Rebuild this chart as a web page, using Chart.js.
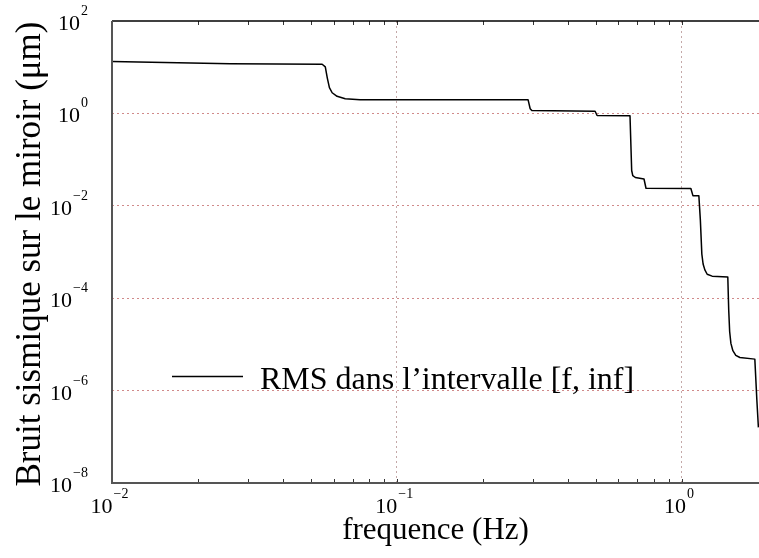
<!DOCTYPE html>
<html>
<head>
<meta charset="utf-8">
<script src="https://cdn.jsdelivr.net/npm/chart.js@4"></script>
<style>
    html, body { margin: 0; padding: 0; background: #fff; }
    #wrap { width: 759px; height: 558px; }
</style>
</head>
<body>
<div id="wrap"><canvas id="ChartBruit" width="759" height="558"></canvas></div>
<script>
// Data
const freq = [
    0.01, 0.026, 0.0547, 0.0561, 0.057, 0.058, 0.0593, 0.0617, 0.0659, 0.0743,
    0.289, 0.294, 0.298, 0.497, 0.505, 0.659, 0.668, 0.674, 0.688, 0.738,
    0.75, 1.078, 1.096, 1.15, 1.164, 1.178, 1.19, 1.207, 1.23, 1.28,
    1.453, 1.464, 1.475, 1.49, 1.514, 1.55, 1.602, 1.808, 1.838, 1.861
];
const rms = [
    13.3, 11.9, 11.6, 10.2, 5.9, 3.6, 2.8, 2.34, 2.07, 1.97,
    1.98, 1.26, 1.15, 1.11, 0.90, 0.887, 0.058, 0.045, 0.041, 0.038,
    0.024, 0.0236, 0.0166, 0.0164, 0.0049, 9e-4, 5.5e-4, 4.1e-4, 3.3e-4, 3.0e-4,
    2.87e-4, 5.5e-5, 1.9e-5, 1.05e-5, 7.3e-6, 5.8e-6, 5.2e-6, 4.8e-6, 6.2e-7, 1.6e-7
];
const seriesLabel = 'RMS dans l\u2019intervalle [f, inf]';
const xTickExps = [-2, -1, 0];
const yTickExps = [2, 0, -2, -4, -6, -8];
const xGridValues = [0.1, 1];
const yGridValues = [1, 1e-2, 1e-4, 1e-6];
const xTitle = 'frequence (Hz)';
const yTitle = 'Bruit sismique sur le miroir (\u03bcm)';

const SERIF = '"Liberation Serif", "Times New Roman", serif';

// "10" with a raised exponent
const drawPower = (ctx, exp, x, y, align) => {
    const base = '10';
    const sup = exp < 0 ? '\u2212' + Math.abs(exp) : String(exp);
    ctx.font = '22px ' + SERIF;
    const wb = ctx.measureText(base).width;
    ctx.font = '14px ' + SERIF;
    const ws = ctx.measureText(sup).width;
    let left = x;
    if (align === 'center') left = x - (wb + ws) / 2;
    if (align === 'right') left = x - (wb + ws);
    ctx.textAlign = 'left';
    ctx.textBaseline = 'alphabetic';
    ctx.font = '22px ' + SERIF;
    ctx.fillText(base, left, y);
    ctx.font = '14px ' + SERIF;
    ctx.fillText(sup, left + wb + 1, y - 15);
};

const decorations = {
    id: 'decorations',
    afterDraw(chart) {
        const ctx = chart.ctx;
        const area = chart.chartArea;
        const xs = chart.scales.x;
        const ys = chart.scales.y;

        ctx.save();
        ctx.fillStyle = '#000';

        // minor ticks, pointing inward on top and bottom
        ctx.strokeStyle = '#333';
        ctx.lineWidth = 1;
        ctx.beginPath();
        for (let e = -2; e <= 0; e++) {
            for (let m = 1; m <= 9; m++) {
                const v = m * Math.pow(10, e);
                if (v > xs.max) continue;
                const px = Math.round(xs.getPixelForValue(v)) + 0.5;
                ctx.moveTo(px, area.top);
                ctx.lineTo(px, area.top + 4);
                ctx.moveTo(px, area.bottom);
                ctx.lineTo(px, area.bottom - 4);
            }
        }
        ctx.stroke();

        // axis lines
        ctx.strokeStyle = '#000';
        ctx.lineWidth = 1.5;
        ctx.beginPath();
        ctx.moveTo(area.left, area.top);
        ctx.lineTo(area.right, area.top);
        ctx.stroke();
        ctx.strokeStyle = '#555';
        ctx.lineWidth = 2;
        ctx.beginPath();
        ctx.moveTo(area.left, area.top);
        ctx.lineTo(area.left, area.bottom);
        ctx.lineTo(area.right, area.bottom);
        ctx.stroke();

        // tick labels
        ctx.fillStyle = '#000';
        xTickExps.forEach((e) => {
            const px = xs.getPixelForValue(Math.pow(10, e));
            drawPower(ctx, e, px - 3, area.bottom + 30, 'center');
        });
        yTickExps.forEach((e) => {
            const py = ys.getPixelForValue(Math.pow(10, e));
            drawPower(ctx, e, 87, py + 9, 'right');
        });

        // axis titles
        ctx.font = '31px ' + SERIF;
        ctx.textAlign = 'center';
        ctx.textBaseline = 'alphabetic';
        ctx.fillText(xTitle, (area.left + area.right) / 2, 539);

        ctx.save();
        ctx.translate(40, 254);
        ctx.rotate(-Math.PI / 2);
        ctx.font = '35px ' + SERIF;
        ctx.fillText(yTitle, 0, 0);
        ctx.restore();

        // legend inside the plot
        const ds = chart.data.datasets[0];
        ctx.strokeStyle = ds.borderColor;
        ctx.lineWidth = 1.5;
        ctx.beginPath();
        ctx.moveTo(172, 376.5);
        ctx.lineTo(243, 376.5);
        ctx.stroke();
        ctx.font = '32px ' + SERIF;
        ctx.textAlign = 'left';
        ctx.fillText(ds.label, 260, 389);

        ctx.restore();
    }
};

const gridColor = (values, color) => (c) => {
    const v = c.tick && c.tick.value;
    return values.some((g) => Math.abs(Math.log10(v) - Math.log10(g)) < 1e-6) ? color : 'rgba(0,0,0,0)';
};

new Chart(document.getElementById('ChartBruit'), {
    type: 'line',
    data: {
        datasets: [
            {
                label: seriesLabel,
                data: freq.map((f, i) => ({ x: f, y: rms[i] })),
                borderColor: '#000',
                borderWidth: 1.5,
                borderJoinStyle: 'round',
                pointRadius: 0,
                tension: 0,
                fill: false
            }
        ]
    },
    options: {
        responsive: false,
        animation: false,
        layout: {
            padding: { left: 112, right: 0, top: 21, bottom: 75 }
        },
        plugins: {
            legend: { display: false },
            tooltip: { enabled: false }
        },
        scales: {
            x: {
                type: 'logarithmic',
                min: 0.01,
                max: 1.87,
                afterBuildTicks: (axis) => {
                    axis.ticks = xGridValues.map((v) => ({ value: v }));
                },
                ticks: { display: false },
                grid: {
                    drawTicks: false,
                    lineWidth: 1,
                    color: gridColor(xGridValues, '#c4a8a8')
                },
                border: { display: false, dash: [2, 3] }
            },
            y: {
                type: 'logarithmic',
                min: 1e-8,
                max: 100,
                afterBuildTicks: (axis) => {
                    axis.ticks = yGridValues.map((v) => ({ value: v }));
                },
                ticks: { display: false },
                grid: {
                    drawTicks: false,
                    lineWidth: 1,
                    color: gridColor(yGridValues, '#d08a8a')
                },
                border: { display: false, dash: [2, 3] }
            }
        }
    },
    plugins: [decorations]
});
</script>
</body>
</html>
